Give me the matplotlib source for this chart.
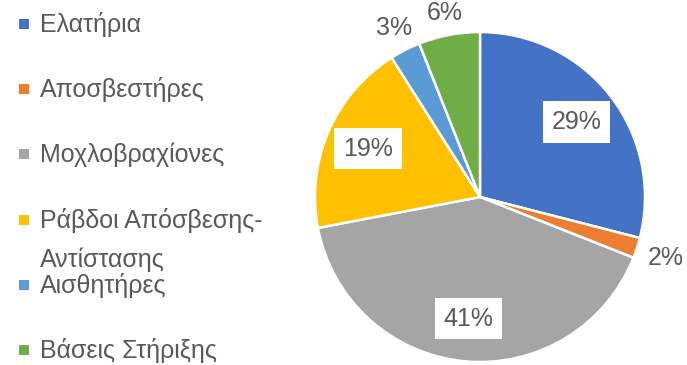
import numpy as np
import matplotlib
matplotlib.use('Agg')
import matplotlib.pyplot as plt
import matplotlib.patches as patches

# categories and shares (%)
labels = ['Ελατήρια', 'Αποσβεστήρες', 'Μοχλοβραχίονες',
          'Ράβδοι Απόσβεσης-\nΑντίστασης', 'Αισθητήρες', 'Βάσεις Στήριξης']
shares = [29, 2, 41, 19, 3, 6]
colors = ['#4472C4', '#ED7D31', '#A5A5A5', '#FFC000', '#5B9BD5', '#70AD47']

plt.rcParams['font.family'] = ['Liberation Sans', 'DejaVu Sans']
txt = '#595959'

W, H = 687, 365
fig = plt.figure(figsize=(W / 100, H / 100), dpi=100, facecolor='w')

# pie axes: centre at (480, 197) px, radius 165 px
cx, cy, r = 480, 197, 165
ax = fig.add_axes([(cx - r) / W, (H - cy - r) / H, 2 * r / W, 2 * r / H])
wedges, _ = ax.pie(shares, colors=colors, startangle=90, counterclock=False,
                   wedgeprops=dict(edgecolor='white', linewidth=1.8))
ax.set_xlim(-1, 1)
ax.set_ylim(-1, 1)
ax.set_axis_off()

# data labels: big slices inside with white box, small ones outside
for w, v in zip(wedges, shares):
    mid = np.deg2rad((w.theta1 + w.theta2) / 2)
    if v >= 10:
        d = 0.74
        box = dict(boxstyle='square,pad=0.35', fc='white', ec='none')
    else:
        d = 1.12 + 0.07 * abs(np.cos(mid))
        box = None
    ax.text(d * np.cos(mid), d * np.sin(mid), '%d%%' % v, ha='center', va='center',
            fontsize=18, color=txt, bbox=box, clip_on=False)

# legend drawn by hand on the left
y0, dy, lh = 24, 65.2, 39
for i, (lab, c) in enumerate(zip(labels, colors)):
    y = y0 + i * dy
    fig.patches.append(patches.Rectangle((19 / W, (H - y - 5) / H), 10 / W, 10 / H,
                                         facecolor=c, edgecolor='none',
                                         transform=fig.transFigure, figure=fig))
    for k, line in enumerate(lab.split('\n')):
        fig.text(40 / W, (H - y - 8 - k * lh) / H, line, fontsize=18, color=txt,
                 ha='left', va='baseline')

fig.savefig('out.png', dpi=100, facecolor='w')
